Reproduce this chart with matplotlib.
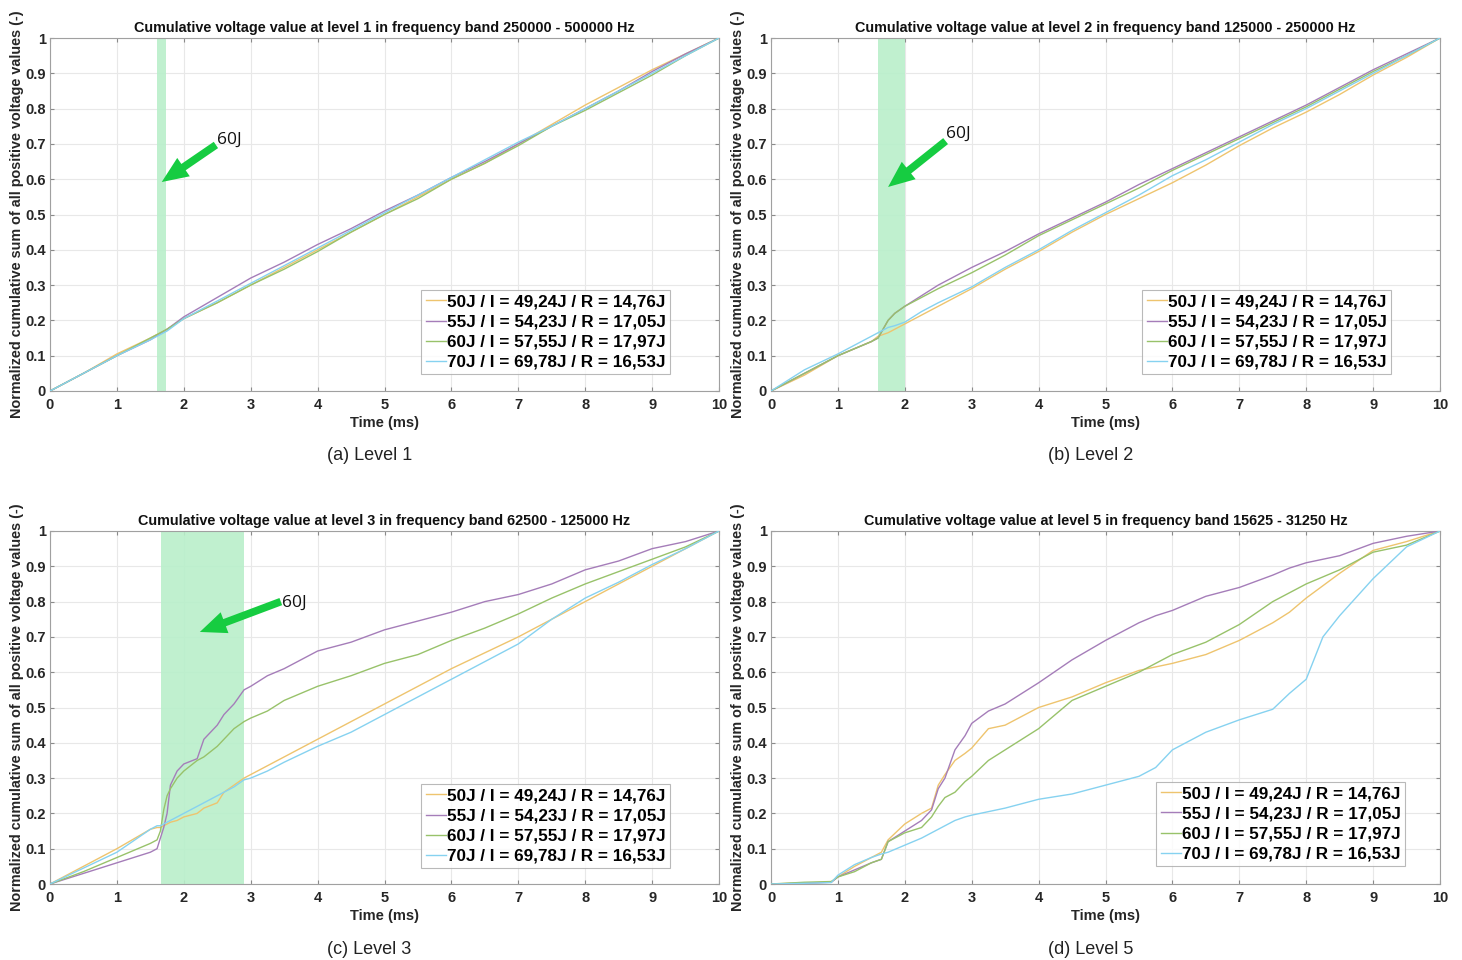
import matplotlib
matplotlib.use("Agg")
import matplotlib.pyplot as plt

plt.rcParams['font.family'] = ['Liberation Sans', 'DejaVu Sans']

# ---- series labels and colours -------------------------------------------
series_labels = [
    "50J / I = 49,24J / R = 14,76J",
    "55J / I = 54,23J / R = 17,05J",
    "60J / I = 57,55J / R = 17,97J",
    "70J / I = 69,78J / R = 16,53J",
]
series_colors = ["#EEC46E", "#A57DB9", "#98C26A", "#86D2F0"]

# ---- level 1 (250000 - 500000 Hz) ----------------------------------------
t_lvl1 = [0, 0.5, 1, 1.5, 1.75, 2, 2.5, 3, 3.5, 4, 4.5, 5, 5.5, 6, 6.5, 7,
          7.5, 8, 8.5, 9, 9.5, 10]
lvl1_50J = [0, 0.050, 0.105, 0.150, 0.175, 0.205, 0.250, 0.300, 0.350, 0.400,
            0.450, 0.500, 0.550, 0.600, 0.645, 0.700, 0.755, 0.810, 0.860,
            0.910, 0.955, 1.0]
lvl1_55J = [0, 0.050, 0.100, 0.145, 0.175, 0.210, 0.265, 0.320, 0.365, 0.415,
            0.460, 0.510, 0.555, 0.605, 0.650, 0.700, 0.750, 0.800, 0.850,
            0.905, 0.955, 1.0]
lvl1_60J = [0, 0.050, 0.100, 0.150, 0.175, 0.205, 0.250, 0.300, 0.345, 0.395,
            0.450, 0.500, 0.545, 0.600, 0.645, 0.695, 0.750, 0.795, 0.845,
            0.895, 0.950, 1.0]
lvl1_70J = [0, 0.050, 0.100, 0.145, 0.170, 0.205, 0.255, 0.305, 0.355, 0.405,
            0.455, 0.505, 0.555, 0.605, 0.655, 0.705, 0.750, 0.800, 0.850,
            0.900, 0.950, 1.0]

# ---- level 2 (125000 - 250000 Hz) ----------------------------------------
t_lvl2 = [0, 0.5, 1, 1.5, 1.6, 1.75, 1.85, 2, 2.25, 2.5, 3, 3.5, 4, 4.5, 5,
          5.5, 6, 6.5, 7, 7.5, 8, 8.5, 9, 9.5, 10]
lvl2_50J = [0, 0.045, 0.100, 0.140, 0.155, 0.165, 0.175, 0.190, 0.215, 0.240,
            0.290, 0.345, 0.395, 0.450, 0.500, 0.545, 0.590, 0.640, 0.695,
            0.745, 0.790, 0.840, 0.895, 0.945, 1.0]
lvl2_55J = [0, 0.050, 0.100, 0.140, 0.150, 0.200, 0.220, 0.240, 0.270, 0.300,
            0.350, 0.395, 0.445, 0.490, 0.535, 0.585, 0.630, 0.675, 0.720,
            0.765, 0.810, 0.860, 0.910, 0.955, 1.0]
lvl2_60J = [0, 0.050, 0.100, 0.140, 0.150, 0.200, 0.220, 0.240, 0.265, 0.290,
            0.335, 0.385, 0.440, 0.485, 0.530, 0.575, 0.625, 0.670, 0.715,
            0.760, 0.805, 0.855, 0.905, 0.950, 1.0]
lvl2_70J = [0, 0.060, 0.105, 0.155, 0.165, 0.180, 0.185, 0.195, 0.225, 0.250,
            0.295, 0.350, 0.400, 0.455, 0.505, 0.555, 0.610, 0.655, 0.705,
            0.755, 0.800, 0.850, 0.900, 0.950, 1.0]

# ---- level 3 (62500 - 125000 Hz) -----------------------------------------
t_lvl3 = [0, 0.5, 1, 1.5, 1.6, 1.65, 1.7, 1.75, 1.8, 1.9, 2, 2.2, 2.3, 2.5,
          2.6, 2.75, 2.9, 3, 3.25, 3.5, 4, 4.5, 5, 5.5, 6, 6.5, 7, 7.5, 8,
          8.5, 9, 9.5, 10]
lvl3_50J = [0, 0.050, 0.100, 0.155, 0.160, 0.160, 0.165, 0.170, 0.175, 0.180,
            0.190, 0.200, 0.215, 0.230, 0.260, 0.280, 0.300, 0.310, 0.335,
            0.360, 0.410, 0.460, 0.510, 0.560, 0.610, 0.655, 0.700, 0.750,
            0.800, 0.850, 0.900, 0.950, 1.0]
lvl3_55J = [0, 0.030, 0.060, 0.090, 0.100, 0.130, 0.160, 0.200, 0.280, 0.320,
            0.340, 0.355, 0.410, 0.450, 0.480, 0.510, 0.550, 0.560, 0.590,
            0.610, 0.660, 0.685, 0.720, 0.745, 0.770, 0.800, 0.820, 0.850,
            0.890, 0.915, 0.950, 0.970, 1.0]
lvl3_60J = [0, 0.035, 0.075, 0.115, 0.125, 0.150, 0.210, 0.250, 0.270, 0.300,
            0.320, 0.350, 0.360, 0.390, 0.410, 0.440, 0.460, 0.470, 0.490,
            0.520, 0.560, 0.590, 0.625, 0.650, 0.690, 0.725, 0.765, 0.810,
            0.850, 0.885, 0.920, 0.955, 1.0]
lvl3_70J = [0, 0.045, 0.090, 0.155, 0.165, 0.165, 0.170, 0.175, 0.180, 0.190,
            0.200, 0.220, 0.230, 0.250, 0.260, 0.275, 0.295, 0.300, 0.320,
            0.345, 0.390, 0.430, 0.480, 0.530, 0.580, 0.630, 0.680, 0.750,
            0.810, 0.855, 0.905, 0.950, 1.0]

# ---- level 5 (15625 - 31250 Hz) ------------------------------------------
t_lvl5 = [0, 0.5, 0.9, 1, 1.25, 1.5, 1.65, 1.75, 2, 2.25, 2.4, 2.5, 2.6, 2.75,
          2.9, 3, 3.25, 3.5, 4, 4.5, 5, 5.5, 5.75, 6, 6.5, 7, 7.5, 7.75, 8,
          8.25, 8.5, 9, 9.5, 10]
lvl5_50J = [0, 0.003, 0.005, 0.020, 0.050, 0.075, 0.090, 0.125, 0.170, 0.200,
            0.215, 0.280, 0.310, 0.350, 0.370, 0.385, 0.440, 0.450, 0.500,
            0.530, 0.570, 0.605, 0.615, 0.625, 0.650, 0.690, 0.740, 0.770,
            0.810, 0.845, 0.880, 0.945, 0.970, 1.0]
lvl5_55J = [0, 0.002, 0.005, 0.020, 0.040, 0.060, 0.070, 0.120, 0.150, 0.180,
            0.210, 0.270, 0.300, 0.380, 0.420, 0.455, 0.490, 0.510, 0.570,
            0.635, 0.690, 0.740, 0.760, 0.775, 0.815, 0.840, 0.875, 0.895,
            0.910, 0.920, 0.930, 0.965, 0.985, 1.0]
lvl5_60J = [0, 0.005, 0.007, 0.020, 0.035, 0.060, 0.070, 0.120, 0.145, 0.160,
            0.190, 0.220, 0.245, 0.260, 0.290, 0.305, 0.350, 0.380, 0.440,
            0.520, 0.560, 0.600, 0.625, 0.650, 0.685, 0.735, 0.800, 0.825,
            0.850, 0.870, 0.890, 0.940, 0.960, 1.0]
lvl5_70J = [0, 0.002, 0.004, 0.025, 0.055, 0.075, 0.085, 0.090, 0.110, 0.130,
            0.145, 0.155, 0.165, 0.180, 0.190, 0.195, 0.205, 0.215, 0.240,
            0.255, 0.280, 0.305, 0.330, 0.380, 0.430, 0.465, 0.495, 0.540,
            0.580, 0.700, 0.760, 0.865, 0.955, 1.0]

# ---- panel text -----------------------------------------------------------
panel_titles = [
    "Cumulative voltage value at level 1 in frequency band 250000 - 500000 Hz",
    "Cumulative voltage value at level 2 in frequency band 125000 - 250000 Hz",
    "Cumulative voltage value at level 3 in frequency band 62500 - 125000 Hz",
    "Cumulative voltage value at level 5 in frequency band 15625 - 31250 Hz",
]
panel_captions = ["(a) Level 1", "(b) Level 2", "(c) Level 3", "(d) Level 5"]
x_ticks = list(range(0, 11))
y_ticks = [0, 0.1, 0.2, 0.3, 0.4, 0.5, 0.6, 0.7, 0.8, 0.9, 1]
y_tick_labels = ["0", "0.1", "0.2", "0.3", "0.4", "0.5", "0.6", "0.7", "0.8", "0.9", "1"]

panels = [
    dict(t=t_lvl1, ys=[lvl1_50J, lvl1_55J, lvl1_60J, lvl1_70J],
         span=(1.6, 1.74), arrow=((2.48, 0.697), (1.67, 0.592)), label_xy=(2.5, 0.712),
         pos=(50, 38), leg=(0.927, 0.048)),
    dict(t=t_lvl2, ys=[lvl2_50J, lvl2_55J, lvl2_60J, lvl2_70J],
         span=(1.6, 2.0), arrow=((2.61, 0.708), (1.75, 0.578)), label_xy=(2.62, 0.728),
         pos=(771, 38), leg=(0.927, 0.048)),
    dict(t=t_lvl3, ys=[lvl3_50J, lvl3_55J, lvl3_60J, lvl3_70J],
         span=(1.66, 2.9), arrow=((3.45, 0.80), (2.24, 0.714)), label_xy=(3.47, 0.797),
         pos=(50, 531), leg=(0.927, 0.045)),
    dict(t=t_lvl5, ys=[lvl5_50J, lvl5_55J, lvl5_60J, lvl5_70J],
         span=None, arrow=None, label_xy=None,
         pos=(771, 531), leg=(0.948, 0.051)),
]

W, H = 1462, 960
fig = plt.figure(figsize=(W / 100, H / 100), dpi=100)
ax_w, ax_h = 669, 353

for i, p in enumerate(panels):
    left, top = p["pos"]
    ax = fig.add_axes([left / W, 1 - (top + ax_h) / H, ax_w / W, ax_h / H])
    ax.set_xlim(0, 10)
    ax.set_ylim(0, 1)
    ax.set_xticks(x_ticks)
    ax.set_yticks(y_ticks)
    ax.set_yticklabels(y_tick_labels)
    ax.grid(True, color="#e8e8e8", linewidth=0.8)
    ax.set_axisbelow(True)
    ax.tick_params(direction="in", length=3, top=True, right=True, labelsize=10.5,
                   color="#8a8a8a")
    ax.tick_params(axis="x", pad=5)
    ax.tick_params(axis="y", pad=3)
    for lbl in ax.get_xticklabels() + ax.get_yticklabels():
        lbl.set_fontweight("bold")
        lbl.set_color("#262626")
    for sp in ax.spines.values():
        sp.set_color("#a0a0a0")
        sp.set_linewidth(0.8)

    if p["span"] is not None:
        ax.axvspan(p["span"][0], p["span"][1], color="#b9efca", alpha=0.9,
                   linewidth=0, zorder=1)

    handles = []
    for y, c, lab in zip(p["ys"], series_colors, series_labels):
        h, = ax.plot(p["t"], y, color=c, linewidth=1.0, label=lab, zorder=3)
        handles.append(h)

    if p["arrow"] is not None:
        tail, head = p["arrow"]
        ax.annotate("", xy=head, xytext=tail,
                    arrowprops=dict(facecolor="#16cc41", edgecolor="none",
                                    width=5.5, headwidth=16, headlength=19, shrink=0),
                    zorder=5)
        ax.text(p["label_xy"][0], p["label_xy"][1], "60J", fontsize=12.5,
                ha="left", va="center", color="#111111",
                family=["Open Sans", "DejaVu Sans"], zorder=6)

    leg = ax.legend(handles=handles, loc="lower right", bbox_to_anchor=p["leg"],
                    borderaxespad=0, fontsize=12.3, handlelength=1.2,
                    handletextpad=0.05, labelspacing=0.3, borderpad=0.25,
                    frameon=True, fancybox=False, edgecolor="#a8a8a8")
    leg.get_frame().set_linewidth(0.8)
    for txt in leg.get_texts():
        txt.set_fontweight("bold")

    ax.set_title(panel_titles[i], fontsize=10.4, fontweight="bold", pad=4,
                 color="#111111")
    ax.set_xlabel("Time (ms)", fontsize=10.5, fontweight="bold", labelpad=3,
                  color="#262626")
    ax.set_ylabel("Normalized cumulative sum of all positive voltage values (-)",
                  fontsize=10.4, fontweight="bold", labelpad=1, color="#262626")

    cx = (left + ax_w / 2 - 15) / W
    cy = 1 - (top + ax_h + 65) / H
    fig.text(cx, cy, panel_captions[i], fontsize=13, ha="center", va="center",
             color="#222222")

fig.savefig("out.png", dpi=100, facecolor="white")
